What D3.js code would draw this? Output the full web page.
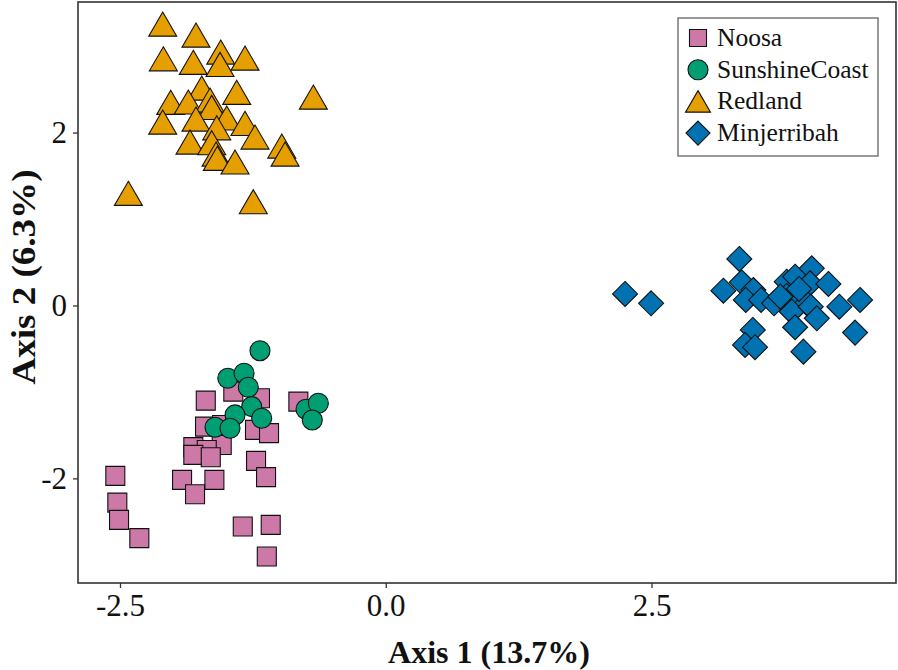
<!DOCTYPE html>
<html><head><meta charset="utf-8">
<script src="https://cdn.jsdelivr.net/npm/d3@7"></script>
<style>body{margin:0;background:#fff}svg{display:block}</style>
</head><body>
<svg id="c" width="898" height="670"></svg>
<script>
// ---- data ----
const seriesNames = ["Noosa", "SunshineCoast", "Redland", "Minjerribah"];
const seriesColors = ["#CC79A7", "#009E73", "#E69F00", "#0072B2"];
const xTicks = [-2.5, 0, 2.5];
const yTicks = [-2, 0, 2];
const xLabel = "Axis 1 (13.7%)";
const yLabel = "Axis 2 (6.3%)";

const noosa = [
  [-1.693,-1.101],[-1.434,-0.997],[-1.183,-1.073],[-0.822,-1.112],[-1.700,-1.401],
  [-1.540,-1.382],[-1.230,-1.439],[-1.098,-1.477],[-1.543,-1.613],[-1.810,-1.639],
  [-1.684,-1.671],[-1.810,-1.728],[-1.646,-1.755],[-1.220,-1.798],[-1.126,-1.986],
  [-1.916,-2.017],[-1.612,-2.017],[-1.794,-2.183],[-2.544,-1.971],[-2.525,-2.280],
  [-2.509,-2.480],[-2.318,-2.691],[-1.345,-2.557],[-1.082,-2.538],[-1.119,-2.904]
];
const sunshineCoast = [
  [-1.183,-0.523],[-1.486,-0.842],[-1.333,-0.784],[-1.293,-0.946],[-1.261,-1.170],
  [-1.418,-1.266],[-1.167,-1.304],[-1.606,-1.408],[-1.465,-1.420],[-0.750,-1.200],
  [-0.634,-1.131],[-0.691,-1.324]
];
const redland = [
  [-2.098,3.254],[-1.785,3.127],[-1.552,2.931],[-1.324,2.861],[-2.092,2.853],
  [-1.810,2.812],[-1.559,2.788],[-1.731,2.514],[-1.402,2.465],[-0.681,2.410],
  [-2.023,2.349],[-1.857,2.353],[-1.653,2.376],[-1.637,2.291],[-1.496,2.168],
  [-2.098,2.121],[-1.785,2.156],[-1.590,2.055],[-1.324,2.106],[-1.230,1.948],
  [-1.841,1.890],[-1.637,1.882],[-0.978,1.844],[-0.947,1.751],[-1.596,1.751],
  [-1.584,1.702],[-1.418,1.659],[-2.421,1.297],[-1.246,1.200]
];
const minjerribah = [
  [2.251,0.133],[2.496,0.025],[3.326,0.538],[3.176,0.171],[3.349,0.268],
  [3.458,0.179],[3.387,0.064],[3.531,0.064],[3.653,0.025],[3.772,0.275],
  [3.851,0.333],[4.008,0.430],[3.772,0.110],[3.866,0.121],[3.992,0.257],
  [4.164,0.249],[3.961,0.025],[3.819,-0.072],[3.998,-0.014],[4.055,-0.148],
  [3.851,-0.252],[4.267,-0.014],[4.462,0.064],[4.415,-0.314],[3.453,-0.283],
  [3.380,-0.457],[3.474,-0.483],[3.929,-0.534],[3.712,0.102],[3.888,0.191]
];
const allSeries = [noosa, sunshineCoast, redland, minjerribah];

// ---- layout ----
const svg = d3.select("#c");
const L = 78, R = 896, T = 2, B = 583;
const x = d3.scaleLinear().domain([-2.895, 4.80]).range([L, R]);
const y = d3.scaleLinear().domain([-3.21, 3.51]).range([B, T]);
const FONT = "'Liberation Serif','Times New Roman',serif";

// custom symbol shapes
const sqType = {draw(c, s){ const h = s/2; c.moveTo(-h,-h); c.lineTo(h,-h); c.lineTo(h,h); c.lineTo(-h,h); c.closePath(); }};
const circType = {draw(c, s){ const r = s/2; c.moveTo(r,0); c.arc(0,0,r,0,2*Math.PI); c.closePath(); }};
const triType = {draw(c, s){ const w = s/2, h = s*0.43; c.moveTo(0,-h); c.lineTo(w,h); c.lineTo(-w,h); c.closePath(); }};
const diaType = {draw(c, s){ const h = s/2; c.moveTo(0,-h); c.lineTo(h,0); c.lineTo(0,h); c.lineTo(-h,0); c.closePath(); }};
const types = [sqType, circType, triType, diaType];
const sizes = [19, 20, 28, 25];
const legSizes = [17, 20, 25, 24];

// axes
const xAxis = d3.axisBottom(x).tickValues(xTicks).tickFormat(d => d.toFixed(1)).tickSize(5).tickPadding(6);
const gx = svg.append("g").attr("transform", `translate(0,${B})`).call(xAxis);
gx.select(".domain").remove();
gx.selectAll(".tick line").attr("stroke", "#333").attr("stroke-width", 1.3);
gx.selectAll(".tick text").attr("font-family", FONT).attr("font-size", 31).attr("fill", "#111");

const yAxis = d3.axisLeft(y).tickValues(yTicks).tickFormat(d => String(d)).tickSize(5).tickPadding(6);
const gy = svg.append("g").attr("transform", `translate(${L},0)`).call(yAxis);
gy.select(".domain").remove();
gy.selectAll(".tick line").attr("stroke", "#333").attr("stroke-width", 1.3);
gy.selectAll(".tick text").attr("font-family", FONT).attr("font-size", 31).attr("fill", "#111");

// points
allSeries.forEach((data, i) => {
  svg.append("g").selectAll("path").data(data).join("path")
    .attr("transform", d => `translate(${x(d[0])},${y(d[1])})`)
    .attr("d", d3.symbol().type(types[i]).size(sizes[i]))
    .attr("fill", seriesColors[i])
    .attr("stroke", "#111").attr("stroke-width", 1.1);
});

// frame
svg.append("rect").attr("x", L).attr("y", T).attr("width", R - L).attr("height", B - T)
  .attr("fill", "none").attr("stroke", "#333").attr("stroke-width", 1.6);

// legend
const leg = svg.append("g");
leg.append("rect").attr("x", 678).attr("y", 18).attr("width", 200).attr("height", 138)
  .attr("fill", "#fff").attr("stroke", "#777").attr("stroke-width", 1.5);
seriesNames.forEach((name, i) => {
  const cy = 38 + i * 31.7;
  leg.append("path").attr("transform", `translate(698,${cy})`)
    .attr("d", d3.symbol().type(types[i]).size(legSizes[i]))
    .attr("fill", seriesColors[i]).attr("stroke", "#111").attr("stroke-width", 1.1);
  leg.append("text").attr("x", 717).attr("y", cy + 8)
    .attr("font-family", FONT).attr("font-size", 25.5).attr("fill", "#111").text(name);
});

// axis titles
svg.append("text").attr("x", 489).attr("y", 663).attr("text-anchor", "middle")
  .attr("font-family", FONT).attr("font-weight", "bold").attr("font-size", 32)
  .attr("textLength", 202).attr("lengthAdjust", "spacingAndGlyphs")
  .attr("fill", "#111").text(xLabel);
svg.append("text").attr("transform", "translate(35,277) rotate(-90)").attr("text-anchor", "middle")
  .attr("font-family", FONT).attr("font-weight", "bold").attr("font-size", 33)
  .attr("textLength", 215).attr("lengthAdjust", "spacingAndGlyphs")
  .attr("fill", "#111").text(yLabel);
</script>
</body></html>
